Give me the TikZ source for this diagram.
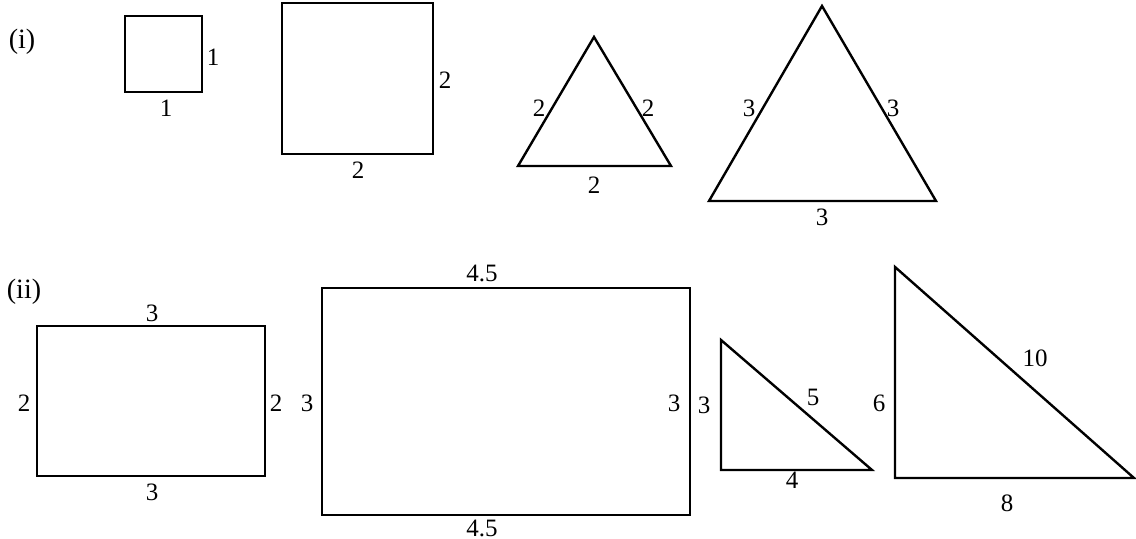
\documentclass[tikz,border=0pt]{standalone}
\usepackage{fontspec}
\setmainfont{Liberation Serif}
\usepackage{tikz}
\tikzset{
  fig/.style={line width=1.2pt, line join=miter},
  lbl/.style={font=\fontsize{12.5}{14}\selectfont, inner sep=0pt},
  tag/.style={font=\fontsize{14}{16}\selectfont, inner sep=0pt},
  sheet/.style={x=0.5pt, y=-0.5pt}
}
\begin{document}
\begin{tikzpicture}[sheet]
        \useasboundingbox (0,0) rectangle (1136,539);
        % (i) squares and equilateral triangles
        \node[tag] (t1) at (22,42) {(i)};
        \coordinate (a1) at (125,16); \coordinate (a2) at (202,16);
        \coordinate (a3) at (202,92); \coordinate (a4) at (125,92);
        \draw[fig] (a1)--(a2)--(a3)--(a4)--cycle;
        \node[lbl] (ar) at (213,57) {1};
        \node[lbl] (ab) at (166,108) {1};
        \coordinate (b1) at (282,3); \coordinate (b2) at (433,3);
        \coordinate (b3) at (433,154); \coordinate (b4) at (282,154);
        \draw[fig] (b1)--(b2)--(b3)--(b4)--cycle;
        \node[lbl] (br) at (445,80) {2};
        \node[lbl] (bb) at (358,170) {2};
        \coordinate (c1) at (594,37); \coordinate (c2) at (518,166);
        \coordinate (c3) at (671,166);
        \draw[fig] (c1)--(c2)--(c3)--cycle;
        \node[lbl] (cl) at (539,108) {2};
        \node[lbl] (cr) at (648,108) {2};
        \node[lbl] (cb) at (594,185) {2};
        \coordinate (d1) at (822,6); \coordinate (d2) at (709,201);
        \coordinate (d3) at (936,201);
        \draw[fig] (d1)--(d2)--(d3)--cycle;
        \node[lbl] (dl) at (749,108) {3};
        \node[lbl] (dr) at (893,108) {3};
        \node[lbl] (db) at (822,217) {3};
        % (ii) rectangles and right triangles
        \node[tag] (t2) at (24,292) {(ii)};
        \coordinate (e1) at (37,326); \coordinate (e2) at (265,326);
        \coordinate (e3) at (265,476); \coordinate (e4) at (37,476);
        \draw[fig] (e1)--(e2)--(e3)--(e4)--cycle;
        \node[lbl] (et) at (152,313) {3};
        \node[lbl] (eb) at (152,492) {3};
        \node[lbl] (el) at (24,403) {2};
        \node[lbl] (er) at (276,403) {2};
        \coordinate (f1) at (322,288); \coordinate (f2) at (690,288);
        \coordinate (f3) at (690,515); \coordinate (f4) at (322,515);
        \draw[fig] (f1)--(f2)--(f3)--(f4)--cycle;
        \node[lbl] (ft) at (482,273) {4.5};
        \node[lbl] (fb) at (482,528) {4.5};
        \node[lbl] (fl) at (307,403) {3};
        \node[lbl] (fr) at (674,403) {3};
        \coordinate (g1) at (721,340); \coordinate (g2) at (721,470);
        \coordinate (g3) at (872,470);
        \draw[fig] (g1)--(g2)--(g3)--cycle;
        \node[lbl] (gl) at (704,405) {3};
        \node[lbl] (gh) at (813,397) {5};
        \node[lbl] (gb) at (792,480) {4};
        \coordinate (h1) at (895,267); \coordinate (h2) at (895,478);
        \coordinate (h3) at (1134,478);
        \draw[fig] (h1)--(h2)--(h3)--cycle;
        \node[lbl] (hl) at (879,403) {6};
        \node[lbl] (hh) at (1035,358) {10};
        \node[lbl] (hb) at (1007,503) {8};
      \end{tikzpicture}
\end{document}
